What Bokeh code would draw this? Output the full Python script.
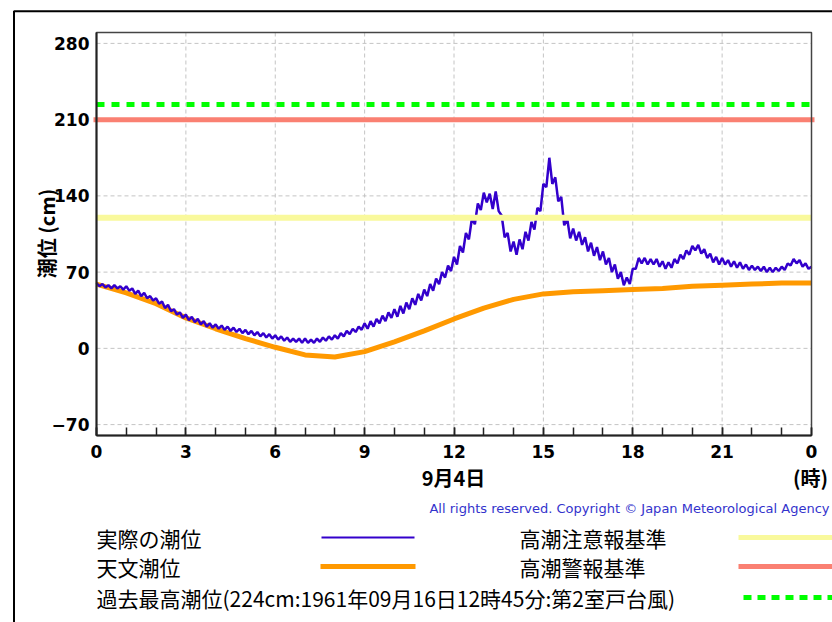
import math
from bokeh.plotting import figure
from bokeh.models import LinearAxis, FixedTicker, Range1d
from bokeh.core.properties import value
from bokeh.embed import file_html
from bokeh.resources import INLINE

# ---------------- data ----------------
# observed tide (cm), every 0.1 h from 0:00 to 24:00 on 9/4
obs_hours = [i / 10 for i in range(241)]
observed = [
    60, 57, 59, 56, 58, 55, 58, 55, 57, 54,
    57, 53, 55, 50, 53, 48, 51, 46, 48, 44,
    46, 41, 43, 37, 40, 34, 36, 31, 33, 28,
    31, 26, 29, 24, 27, 22, 25, 20, 23, 19,
    22, 18, 21, 17, 20, 16, 19, 15, 18, 14,
    17, 13, 16, 12, 15, 11, 14, 10, 13, 9,
    12, 8, 11, 7, 10, 6, 9, 6, 9, 5,
    9, 5, 8, 5, 9, 6, 10, 7, 11, 8,
    12, 9, 14, 11, 16, 13, 18, 15, 20, 17,
    23, 18, 25, 20, 27, 23, 30, 25, 33, 28,
    36, 29, 39, 32, 42, 36, 46, 40, 50, 44,
    54, 48, 59, 53, 64, 59, 70, 65, 76, 71,
    84, 77, 94, 88, 106, 100, 119, 114, 133, 127,
    143, 134, 142, 128, 144, 126, 122, 102, 106, 89,
    98, 86, 100, 91, 107, 99, 116, 109, 129, 126,
    151, 148, 175, 151, 157, 135, 139, 113, 119, 101,
    110, 99, 107, 95, 102, 89, 97, 85, 93, 81,
    89, 77, 83, 70, 77, 64, 70, 58, 65, 59,
    73, 73, 83, 78, 83, 77, 82, 77, 82, 75,
    80, 73, 79, 74, 82, 78, 86, 82, 90, 86,
    94, 90, 95, 87, 91, 83, 87, 79, 84, 77,
    83, 77, 81, 75, 80, 74, 79, 73, 77, 72,
    76, 72, 75, 71, 75, 70, 74, 70, 74, 71,
    75, 72, 78, 76, 82, 78, 81, 75, 78, 73,
    75,
]
# astronomical tide (cm), hourly
astro_hours = list(range(25))
astro = [59, 51, 41, 28, 18, 9, 1, -6, -8, -3, 6, 16, 27, 37, 45, 50,
         52, 53, 54, 55, 57, 58, 59, 60, 60]

caution_level = 120   # 高潮注意報基準
warning_level = 210   # 高潮警報基準
record_level = 224    # 過去最高潮位

x_ticks = [0, 3, 6, 9, 12, 15, 18, 21, 24]
x_tick_labels = ["0", "3", "6", "9", "12", "15", "18", "21", "0"]
x_minor = list(range(25))
y_ticks = [-70, 0, 70, 140, 210, 280]
X_MIN, X_MAX = 0, 24
Y_MIN, Y_MAX = -80, 290

y_title = "潮位 (cm)"
date_label = "9月4日"
unit_label = "(時)"
copyright_text = "All rights reserved. Copyright © Japan Meteorological Agency"
legend_labels = ["実際の潮位", "天文潮位",
                 "過去最高潮位(224cm:1961年09月16日12時45分:第2室戸台風)",
                 "高潮注意報基準", "高潮警報基準"]

# ---------------- colours ----------------
C_OBS = "#3300cc"
C_AST = "#ff9900"
C_CAU = "#f9f99c"
C_WAR = "#fa8072"
C_REC = "#00ff00"
C_GRID = "#c4c4c4"

# ---------------- layout helpers (picture pixels -> data units) ----------------
W, H = 832, 622
PX_L, PX_R = 96, 811      # picture x of hour 0 and hour 24
PX_B, PX_T = 435, 32      # picture y of -80 cm and 290 cm
sx = (PX_R - PX_L) / (X_MAX - X_MIN)
sy = (PX_B - PX_T) / (Y_MAX - Y_MIN)

def dx(X):
    return X_MIN + (X - PX_L) / sx

def dy(Y):
    return Y_MIN + (PX_B - Y) / sy

p = figure(width=W, height=H,
           x_range=Range1d(dx(0), dx(W)), y_range=Range1d(dy(H), dy(0)),
           output_backend="svg", toolbar_location=None,
           x_axis_location=None, y_axis_location=None, min_border=0)
p.background_fill_color = "white"
p.border_fill_color = "white"
p.outline_line_color = None
for g in p.grid:
    g.visible = False

# grid
gx = x_ticks[1:-1]
p.segment(x0=gx, y0=[Y_MIN] * len(gx), x1=gx, y1=[Y_MAX] * len(gx),
          line_color=C_GRID, line_dash="4 3", line_width=1)
p.segment(x0=[X_MIN] * len(y_ticks), y0=y_ticks, x1=[X_MAX] * len(y_ticks), y1=y_ticks,
          line_color=C_GRID, line_dash="4 3", line_width=1)

# data lines
p.line(astro_hours, astro, line_color=C_AST, line_width=5)
p.line(obs_hours, observed, line_color=C_OBS, line_width=2.5)

# threshold lines
p.segment(x0=[X_MIN], y0=[caution_level], x1=[X_MAX], y1=[caution_level],
          line_color=C_CAU, line_width=6)
p.segment(x0=[dx(93)], y0=[warning_level], x1=[dx(814)], y1=[warning_level],
          line_color=C_WAR, line_width=5)
p.segment(x0=[X_MIN], y0=[record_level], x1=[X_MAX], y1=[record_level],
          line_color=C_REC, line_width=5, line_dash="8 7")

# plot box
p.quad(left=[X_MIN], right=[X_MAX], bottom=[Y_MIN], top=[Y_MAX],
       fill_alpha=0, line_color="#444444", line_width=1.5)

# outer frame of the whole chart (left and top edges; the rest is off-page)
p.line(x=[dx(13.5), dx(13.5), dx(2000)], y=[dy(2000), dy(10.7), dy(10.7)],
       line_color="black", line_width=2)

# axes
xax = LinearAxis(fixed_location=Y_MIN, bounds=(X_MIN, X_MAX),
                 ticker=FixedTicker(ticks=x_ticks, minor_ticks=x_minor))
xax.major_label_overrides = {t: l for t, l in zip(x_ticks, x_tick_labels)}
yax = LinearAxis(fixed_location=X_MIN, bounds=(Y_MIN, Y_MAX),
                 ticker=FixedTicker(ticks=y_ticks))
for ax in (xax, yax):
    ax.axis_line_color = "#222222"
    ax.axis_line_width = 2
    ax.major_label_text_font = "DejaVu Sans"
    ax.major_label_text_font_style = "bold"
    ax.major_label_text_font_size = "17px"
    ax.major_label_text_color = "black"
xax.major_tick_in = 8
xax.major_tick_out = 0
xax.minor_tick_in = 8
xax.minor_tick_out = 0
xax.major_tick_line_color = "#222222"
xax.minor_tick_line_color = "#222222"
xax.major_tick_line_width = 1.5
xax.minor_tick_line_width = 1.5
xax.major_label_standoff = 9
yax.major_tick_in = 0
yax.major_tick_out = 0
yax.minor_tick_in = 0
yax.minor_tick_out = 0
yax.major_label_standoff = 7
p.add_layout(xax, "below")
p.add_layout(yax, "left")

CJK = value("Noto Sans CJK JP")

def txt(X, Y, text, size, bold=False, align="left", font=CJK, color="black", angle=0):
    p.text(x=[dx(X)], y=[dy(Y)], text=[text], text_font=font, text_font_size=size,
           text_font_style="bold" if bold else "normal", text_align=align,
           text_baseline="middle", text_color=color, angle=angle)

# axis titles
txt(46, 233, y_title, "20px", bold=True, align="center", angle=math.pi / 2)
txt(453, 477, date_label, "20px", bold=True, align="center")
txt(810, 477, unit_label, "20px", bold=True, align="center")

# copyright
txt(829, 508, copyright_text, "13px", align="right", font=value("DejaVu Sans"), color="#3333cc")

# legend
ROWS = [537, 566, 597]
txt(96, ROWS[0], legend_labels[0], "21px")
txt(96, ROWS[1], legend_labels[1], "21px")
txt(96, ROWS[2], legend_labels[2], "21px")
txt(519, ROWS[0], legend_labels[3], "21px")
txt(519, ROWS[1], legend_labels[4], "21px")

def sample(X0, X1, Y, width, color, dash="solid"):
    p.line(x=[dx(X0), dx(X1)], y=[dy(Y), dy(Y)], line_color=color, line_width=width,
           line_dash=dash)

sample(321, 414, ROWS[0], 2, C_OBS)
sample(320, 415, ROWS[1], 5, C_AST)
sample(738, 840, ROWS[0], 5, C_CAU)
sample(738, 840, ROWS[1], 5, C_WAR)
sample(743, 840, ROWS[2], 5, C_REC, dash="8 6")

open("out.html", "w").write(file_html(p, INLINE))
